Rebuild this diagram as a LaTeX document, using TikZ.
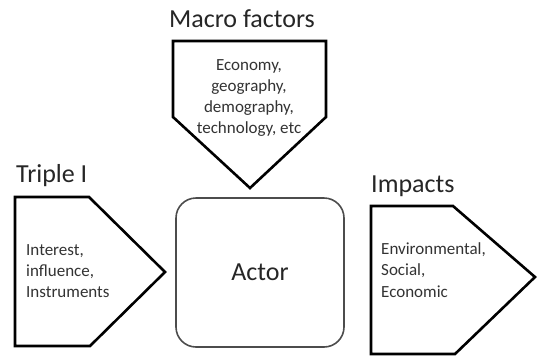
\documentclass[tikz,border=0pt]{standalone}
\usepackage{fontspec}
\setmainfont{Carlito}
\begin{document}
\begin{tikzpicture}[x=1pt,y=-1pt,
  penta/.style={draw=black,line width=2.6pt,line join=miter,fill=white},
  title/.style={font=\fontsize{26}{28}\selectfont,text=black!85,inner sep=0pt},
  small/.style={font=\fontsize{17}{21.3}\selectfont,text=black!80,inner sep=0pt,align=left}]
\useasboundingbox (0,0) rectangle (537,360);
\fill[white] (0,0) rectangle (537,360);
% Macro factors
\draw[penta] (173,41) -- (326,41) -- (326,117) -- (250,188) -- (173,117) -- cycle;
\node[title] (mtitle) at (242,19) {Macro factors};
\node[small,align=center] (mtext) at (249,98) {Economy,\\geography,\\demography,\\technology, etc};
% Triple I
\draw[penta] (15,197) -- (89,197) -- (165,272) -- (90,346) -- (15,346) -- cycle;
\node[title,anchor=west] (ttitle) at (16,176) {Triple I};
\node[small,anchor=west] (ttext) at (26,271) {Interest,\\influence,\\Instruments};
% Actor
\node[draw=black!70,line width=1.6pt,rounded corners=20pt,minimum width=168pt,minimum height=149pt,
      font=\fontsize{26}{28}\selectfont,text=black!85] (actor) at (260,272.5) {Actor};
% Impacts
\draw[penta] (371,206) -- (453,206) -- (535,277) -- (455,354) -- (371,354) -- cycle;
\node[title,anchor=west] (ititle) at (371,186) {Impacts};
\node[small,anchor=west] (itext) at (381,270) {Environmental,\\Social,\\Economic};
\end{tikzpicture}
\end{document}
